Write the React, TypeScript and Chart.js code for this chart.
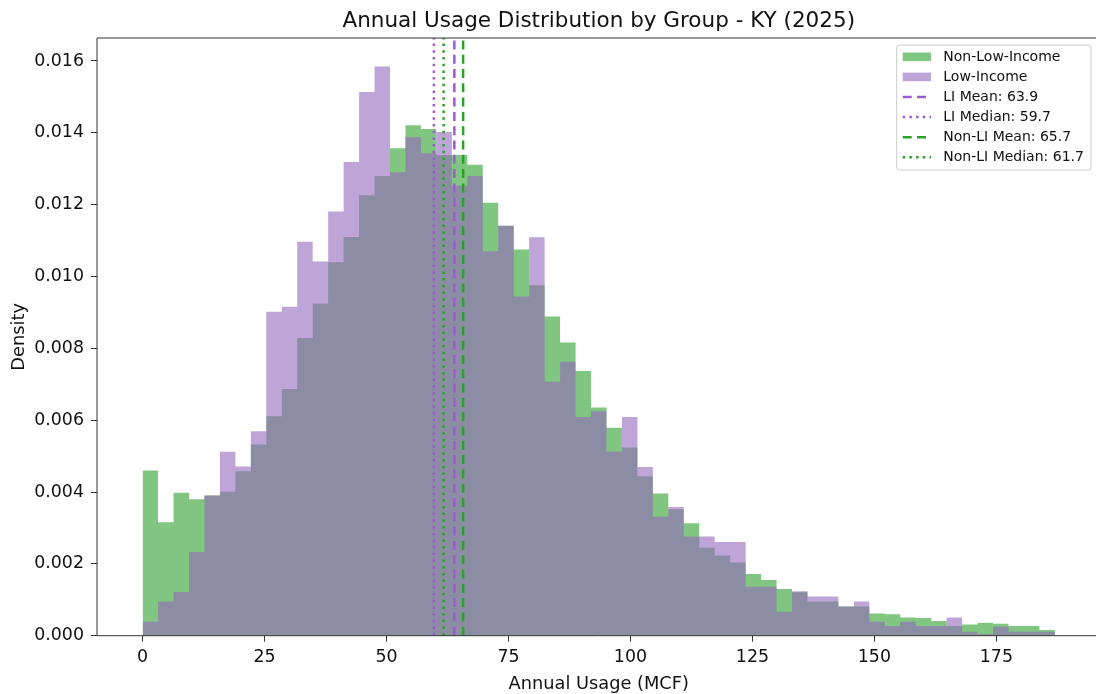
import React, { useEffect, useRef } from "react";
import { Chart, registerables } from "chart.js";

Chart.register(...registerables);

// ---- data ----
const BIN_START = 0;
const BIN_END = 187;
const BIN_COUNT = 59;

const nonLowIncome = [
  0.0046, 0.00316, 0.00398, 0.0038, 0.0039, 0.00401, 0.00458, 0.00532, 0.00611, 0.00687,
  0.00829, 0.00925, 0.0104, 0.0111, 0.01226, 0.0128, 0.01357, 0.01421, 0.01411, 0.01338,
  0.01338, 0.01311, 0.01205, 0.01141, 0.01075, 0.00976, 0.00889, 0.00816, 0.00737, 0.00635,
  0.00579, 0.00524, 0.00444, 0.00396, 0.00352, 0.00313, 0.00245, 0.00223, 0.00204, 0.00172,
  0.00155, 0.0013, 0.00121, 0.00095, 0.00095, 0.00081, 0.00081, 0.00062, 0.0006, 0.00051,
  0.00049, 0.00041, 0.00027, 0.00031, 0.00036, 0.00033, 0.00027, 0.00027, 0.00016,
];

const lowIncome = [
  0.00039, 0.00095, 0.00122, 0.00233, 0.0039, 0.00512, 0.00471, 0.00569, 0.00902, 0.00916,
  0.01097, 0.01042, 0.01181, 0.01319, 0.01514, 0.01585, 0.0129, 0.01388, 0.01343, 0.01402,
  0.01253, 0.0128, 0.0107, 0.01141, 0.00944, 0.01109, 0.00707, 0.00763, 0.00609, 0.00625,
  0.00513, 0.00609, 0.0047, 0.00331, 0.00358, 0.00276, 0.00276, 0.00261, 0.00261, 0.00136,
  0.00136, 0.00067, 0.00124, 0.00109, 0.00109, 0.00081, 0.00095, 0.00039, 0.00027, 0.00039,
  0.00027, 0.00027, 0.00051, 0.00011, 0.00005, 0.00025, 0.00011, 0.00011, 0.00011,
];

const liMean = 63.9;
const liMedian = 59.7;
const nonLiMean = 65.7;
const nonLiMedian = 61.7;

const xTicks = [0, 25, 50, 75, 100, 125, 150, 175];
const yTicks = [0, 0.002, 0.004, 0.006, 0.008, 0.01, 0.012, 0.014, 0.016];

const TITLE = "Annual Usage Distribution by Group - KY (2025)";
const X_LABEL = "Annual Usage (MCF)";
const Y_LABEL = "Density";

// ---- styles ----
const FONT = '"DejaVu Sans", sans-serif';
const GREEN_FILL = "rgba(44,160,44,0.6)";
const PURPLE_FILL = "rgba(148,103,189,0.6)";
const GREEN_LINE = "#2ca02c";
const PURPLE_LINE = "#9a5ccf";
const DASH = [9, 5.3];
const DOT = [2.5, 4.2];
const X_MIN = -9.35;
const X_MAX = 196.35;
const Y_MAX = 0.01664;

function stepPoints(vals: number[]) {
  const w = (BIN_END - BIN_START) / BIN_COUNT;
  const pts: { x: number; y: number }[] = [];
  vals.forEach((v, i) => {
    const a = BIN_START + i * w;
    pts.push({ x: a, y: v }, { x: a + w, y: v });
  });
  return pts;
}

function vline(x: number) {
  return [
    { x, y: 0 },
    { x, y: Y_MAX },
  ];
}

const legendItems = [
  { kind: "patch", color: GREEN_FILL, label: "Non-Low-Income" },
  { kind: "patch", color: PURPLE_FILL, label: "Low-Income" },
  { kind: "line", color: PURPLE_LINE, dash: DASH, label: `LI Mean: ${liMean.toFixed(1)}` },
  { kind: "line", color: PURPLE_LINE, dash: DOT, label: `LI Median: ${liMedian.toFixed(1)}` },
  { kind: "line", color: GREEN_LINE, dash: DASH, label: `Non-LI Mean: ${nonLiMean.toFixed(1)}` },
  { kind: "line", color: GREEN_LINE, dash: DOT, label: `Non-LI Median: ${nonLiMedian.toFixed(1)}` },
];

const decorPlugin = {
  id: "decor",
  afterDatasetsDraw(chart: any) {
    const { ctx, chartArea: a } = chart;
    ctx.save();
    ctx.strokeStyle = "#333";
    ctx.lineWidth = 1;
    ctx.setLineDash([]);
    ctx.beginPath();
    ctx.rect(a.left, a.top, a.right - a.left, a.bottom - a.top);
    ctx.stroke();
    ctx.restore();
  },
  afterDraw(chart: any) {
    const { ctx, chartArea: a } = chart;
    ctx.save();
    ctx.fillStyle = "#111";
    // title
    ctx.font = `21.5px ${FONT}`;
    ctx.textAlign = "center";
    ctx.textBaseline = "alphabetic";
    ctx.fillText(TITLE, (a.left + a.right) / 2, 27);
    // x label
    ctx.font = `17.8px ${FONT}`;
    ctx.fillText(X_LABEL, (a.left + a.right) / 2, 689);
    // y label
    ctx.save();
    ctx.translate(19, (a.top + a.bottom) / 2);
    ctx.rotate(-Math.PI / 2);
    ctx.textBaseline = "middle";
    ctx.fillText(Y_LABEL, 0, 0);
    ctx.restore();

    // legend
    const bx = 896.7, by = 45, bw = 194.3, bh = 125;
    ctx.beginPath();
    (ctx as any).roundRect ? (ctx as any).roundRect(bx, by, bw, bh, 3) : ctx.rect(bx, by, bw, bh);
    ctx.fillStyle = "rgba(255,255,255,0.8)";
    ctx.fill();
    ctx.strokeStyle = "#cccccc";
    ctx.lineWidth = 1;
    ctx.stroke();

    ctx.font = `14px ${FONT}`;
    ctx.textAlign = "left";
    ctx.textBaseline = "middle";
    legendItems.forEach((it: any, i) => {
      const cy = 56.8 + i * 20.1;
      if (it.kind === "patch") {
        ctx.fillStyle = it.color;
        ctx.fillRect(902.7, cy - 4.3, 28.3, 8.6);
      } else {
        ctx.strokeStyle = it.color;
        ctx.lineWidth = 2.5;
        ctx.setLineDash(it.dash);
        ctx.beginPath();
        ctx.moveTo(902.7, cy);
        ctx.lineTo(931, cy);
        ctx.stroke();
        ctx.setLineDash([]);
      }
      ctx.fillStyle = "#111";
      ctx.fillText(it.label, 943.3, cy + 0.5);
    });
    ctx.restore();
  },
};

export default function App() {
  const canvasRef = useRef<HTMLCanvasElement | null>(null);

  useEffect(() => {
    if (!canvasRef.current) return;
    const lineDs = (label: string, x: number, color: string, dash: number[]) => ({
      type: "line" as const,
      label,
      data: vline(x),
      borderColor: color,
      borderWidth: 2.5,
      borderDash: dash,
      borderCapStyle: "butt",
      pointRadius: 0,
      fill: false,
      order: 1,
    });
    const chart = new Chart(canvasRef.current, {
      type: "line",
      data: {
        datasets: [
          {
            label: "Non-Low-Income",
            data: stepPoints(nonLowIncome),
            backgroundColor: GREEN_FILL,
            borderColor: "rgba(0,0,0,0)",
            borderWidth: 0,
            pointRadius: 0,
            fill: "origin",
            tension: 0,
            order: 3,
          },
          {
            label: "Low-Income",
            data: stepPoints(lowIncome),
            backgroundColor: PURPLE_FILL,
            borderColor: "rgba(0,0,0,0)",
            borderWidth: 0,
            pointRadius: 0,
            fill: "origin",
            tension: 0,
            order: 2,
          },
          lineDs(`LI Mean: ${liMean}`, liMean, PURPLE_LINE, DASH),
          lineDs(`LI Median: ${liMedian}`, liMedian, PURPLE_LINE, DOT),
          lineDs(`Non-LI Mean: ${nonLiMean}`, nonLiMean, GREEN_LINE, DASH),
          lineDs(`Non-LI Median: ${nonLiMedian}`, nonLiMedian, GREEN_LINE, DOT),
        ] as any,
      },
      options: {
        animation: false,
        responsive: false,
        devicePixelRatio: 1,
        layout: { padding: { top: 38, left: 0, right: 0.5, bottom: 0 } },
        plugins: {
          legend: { display: false },
          title: { display: false },
          tooltip: { enabled: false },
        },
        scales: {
          x: {
            type: "linear",
            min: X_MIN,
            max: X_MAX,
            afterBuildTicks: (s: any) => {
              s.ticks = xTicks.map((v) => ({ value: v }));
            },
            afterFit: (s: any) => {
              s.height = 58.3;
            },
            grid: {
              display: true,
              drawOnChartArea: false,
              drawTicks: true,
              tickLength: 6,
              color: "#333",
              lineWidth: 1,
            },
            border: { display: false },
            ticks: {
              color: "#111",
              font: { family: FONT, size: 17.4 },
              padding: 5,
              maxRotation: 0,
              autoSkip: false,
              callback: (v: any) => String(v),
            },
          },
          y: {
            type: "linear",
            min: 0,
            max: Y_MAX,
            afterBuildTicks: (s: any) => {
              s.ticks = yTicks.map((v) => ({ value: v }));
            },
            afterFit: (s: any) => {
              s.width = 97;
            },
            grid: {
              display: true,
              drawOnChartArea: false,
              drawTicks: true,
              tickLength: 6,
              color: "#333",
              lineWidth: 1,
            },
            border: { display: false },
            ticks: {
              color: "#111",
              font: { family: FONT, size: 17.4 },
              padding: 7,
              autoSkip: false,
              callback: (v: any) => Number(v).toFixed(3),
            },
          },
        },
      } as any,
      plugins: [decorPlugin],
    });
    return () => chart.destroy();
  }, []);

  return (
    <div
      style={{
        position: "fixed",
        left: 0,
        top: 0,
        width: 1096,
        height: 694,
        overflow: "hidden",
        background: "#fff",
      }}
    >
      <canvas ref={canvasRef} width={1101} height={694} style={{ display: "block" }} />
    </div>
  );
}
